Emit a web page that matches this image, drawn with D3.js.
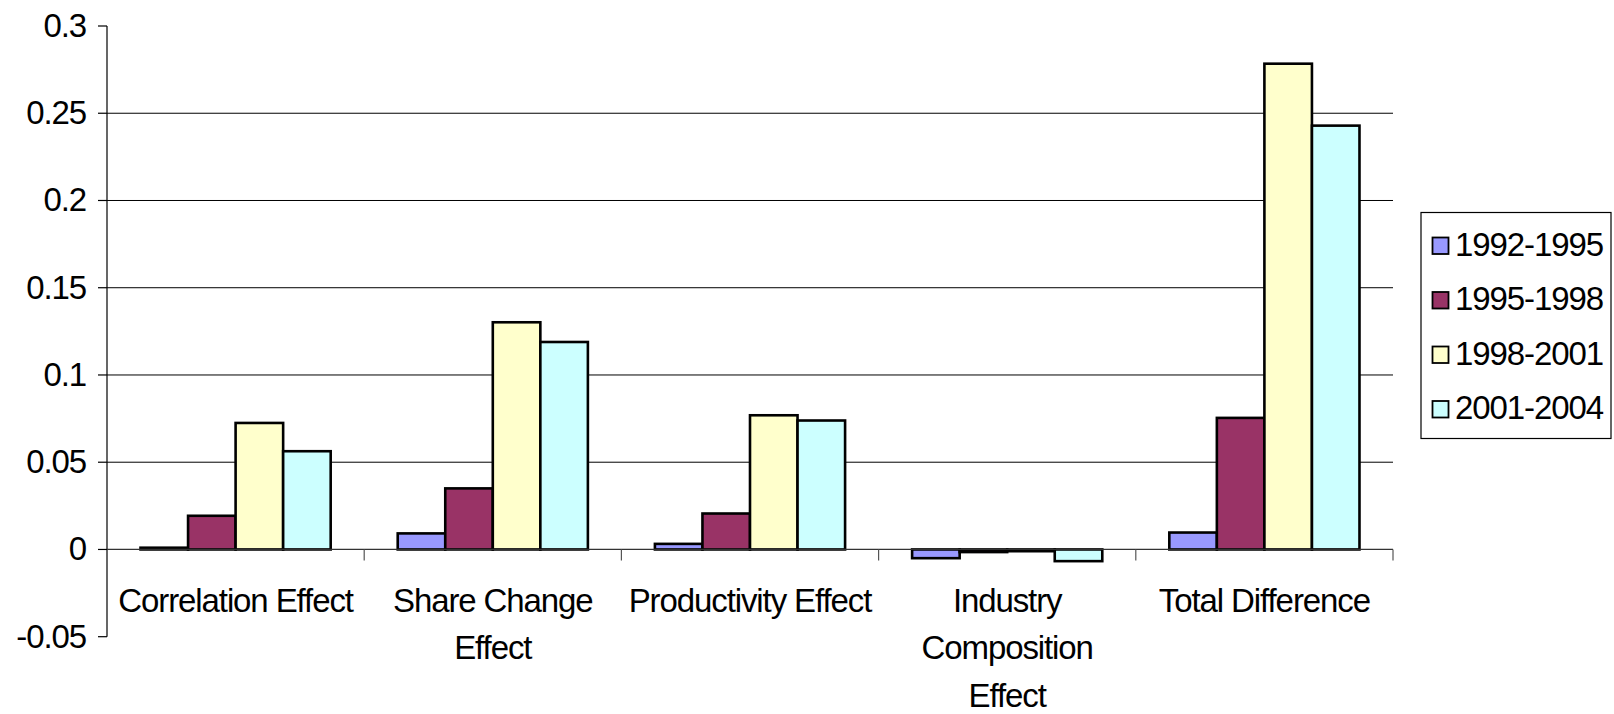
<!DOCTYPE html>
<html>
<head>
<meta charset="utf-8">
<script src="https://cdn.jsdelivr.net/npm/d3@7"></script>
<style>
  html, body { margin: 0; padding: 0; background: #fff; }
  svg { display: block; }
  text { font-family: "Liberation Sans", Arial, sans-serif; fill: #000; }
</style>
</head>
<body>
<svg id="chart" width="1614" height="714"></svg>
<script>
// ---- Data ----
const categories = ["Correlation Effect", "Share Change Effect", "Productivity Effect", "Industry Composition Effect", "Total Difference"];
const categoryLines = [["Correlation Effect"], ["Share Change", "Effect"], ["Productivity Effect"], ["Industry", "Composition", "Effect"], ["Total Difference"]];
const seriesNames = ["1992-1995", "1995-1998", "1998-2001", "2001-2004"];
const values1992_1995 = [0.001, 0.0092, 0.0032, -0.005, 0.0097];
const values1995_1998 = [0.0193, 0.035, 0.0206, -0.0015, 0.0754];
const values1998_2001 = [0.0725, 0.1302, 0.0769, -0.001, 0.2784];
const values2001_2004 = [0.0563, 0.1189, 0.0739, -0.0067, 0.2429];
const seriesColors = ["#9999FF", "#993366", "#FFFFCC", "#CCFFFF"];
const yTicks = [-0.05, 0, 0.05, 0.1, 0.15, 0.2, 0.25, 0.3];
const yTickLabels = ["-0.05", "0", "0.05", "0.1", "0.15", "0.2", "0.25", "0.3"];

const seriesValues = [values1992_1995, values1995_1998, values1998_2001, values2001_2004];

// ---- Layout ----
const svg = d3.select("#chart");
const plotLeft = 107, plotRight = 1393, plotTop = 26, plotBottom = 636.7;

const y = d3.scaleLinear().domain([-0.05, 0.3]).range([plotBottom, plotTop]);
const x = d3.scaleBand().domain(categories).range([plotLeft, plotRight]).paddingInner(0).paddingOuter(0);
const xs = d3.scaleBand().domain(seriesNames).range([0, x.bandwidth()]).paddingInner(0).paddingOuter(0.705);

// Gridlines
svg.append("g").selectAll("line")
  .data(yTicks.filter(t => t > 0 && t < 0.3))
  .join("line")
  .attr("x1", plotLeft).attr("x2", plotRight)
  .attr("y1", d => y(d)).attr("y2", d => y(d))
  .attr("stroke", "#000").attr("stroke-width", 1);

// Bars
const barData = [];
categories.forEach((c, i) => {
  seriesNames.forEach((s, j) => {
    barData.push({ cat: c, ser: s, v: seriesValues[j][i], color: seriesColors[j] });
  });
});
svg.append("g").selectAll("rect")
  .data(barData)
  .join("rect")
  .attr("x", d => x(d.cat) + xs(d.ser))
  .attr("width", xs.bandwidth())
  .attr("y", d => Math.min(y(d.v), y(0)))
  .attr("height", d => Math.abs(y(d.v) - y(0)))
  .attr("fill", d => d.color)
  .attr("stroke", "#000")
  .attr("stroke-width", 2.6);

// Y axis
const yAxis = svg.append("g");
yAxis.append("line")
  .attr("x1", plotLeft).attr("x2", plotLeft)
  .attr("y1", plotTop).attr("y2", plotBottom)
  .attr("stroke", "#000").attr("stroke-width", 1.2);
yAxis.selectAll("line.tick")
  .data(yTicks)
  .join("line").attr("class", "tick")
  .attr("x1", plotLeft - 9).attr("x2", plotLeft)
  .attr("y1", d => y(d)).attr("y2", d => y(d))
  .attr("stroke", "#000").attr("stroke-width", 1.2);
yAxis.selectAll("text")
  .data(yTicks)
  .join("text")
  .attr("x", 86)
  .attr("y", d => y(d) + 11)
  .attr("text-anchor", "end")
  .attr("font-size", 33)
  .attr("letter-spacing", "-1.1px")
  .text((d, i) => yTickLabels[i]);

// X axis (zero line)
const xAxis = svg.append("g");
xAxis.append("line")
  .attr("x1", plotLeft).attr("x2", plotRight)
  .attr("y1", y(0)).attr("y2", y(0))
  .attr("stroke", "#333").attr("stroke-width", 1.2);
const boundaries = categories.map(c => x(c) + x.bandwidth());
xAxis.selectAll("line.tick")
  .data(boundaries)
  .join("line").attr("class", "tick")
  .attr("x1", d => d).attr("x2", d => d)
  .attr("y1", y(0)).attr("y2", y(0) + 11)
  .attr("stroke", "#555").attr("stroke-width", 1.2);

// Category labels
const labelG = xAxis.selectAll("text.cat")
  .data(categories)
  .join("text").attr("class", "cat")
  .attr("text-anchor", "middle")
  .attr("font-size", 33)
  .attr("letter-spacing", "-1.1px");
labelG.each(function(c, i) {
  const t = d3.select(this);
  categoryLines[i].forEach((ln, k) => {
    t.append("tspan")
      .attr("x", x(c) + x.bandwidth() / 2)
      .attr("y", 611.7 + k * 47.5)
      .text(ln);
  });
});

// Legend
const legend = svg.append("g");
legend.append("rect")
  .attr("x", 1421).attr("y", 212.5)
  .attr("width", 190).attr("height", 226)
  .attr("fill", "#fff").attr("stroke", "#000").attr("stroke-width", 1.2);
seriesNames.forEach((s, j) => {
  const cy = 246 + j * 54.5;
  legend.append("rect")
    .attr("x", 1432.5).attr("y", cy - 8.5)
    .attr("width", 16).attr("height", 16.5)
    .attr("fill", seriesColors[j])
    .attr("stroke", "#000").attr("stroke-width", 1.8);
  legend.append("text")
    .attr("x", 1455).attr("y", cy + 9.5)
    .attr("font-size", 33)
    .attr("letter-spacing", "-1.1px")
    .text(s);
});
</script>
</body>
</html>
